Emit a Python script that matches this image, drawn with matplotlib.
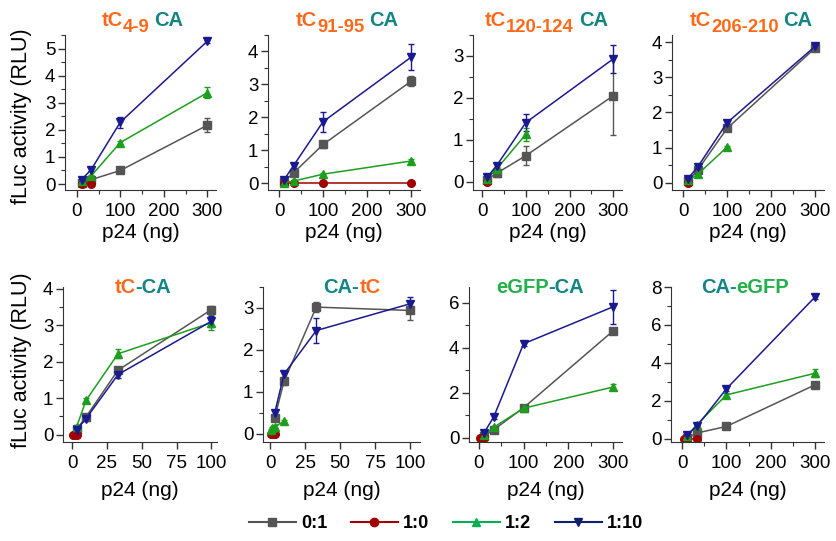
import matplotlib
matplotlib.use('Agg')
import matplotlib.pyplot as plt
from matplotlib.lines import Line2D
from matplotlib.ticker import MultipleLocator
from matplotlib.transforms import IdentityTransform
import numpy as np

nan = np.nan

###########
# DATOS
###########

# eje x (ng de p24)
x_top = [3.7, 11, 33, 100, 300]
x_low = [0.37, 1.1, 3.3, 10, 33, 100]

series = ['0:1', '1:0', '1:2', '1:10']

# tC4-9 CA
tc49_y = [[nan, 0.05, 0.16, 0.50, 2.17],
          [nan, 0.0, 0.0, nan, nan],
          [nan, 0.10, 0.30, 1.53, 3.37],
          [nan, 0.16, 0.53, 2.28, 5.27]]
tc49_e = [[0, 0.02, 0.03, 0.04, 0.25],
          [0, 0.01, 0.01, 0, 0],
          [0, 0.03, 0.05, 0.07, 0.20],
          [0, 0.03, 0.05, 0.20, 0.06]]

# tC91-95 CA
tc91_y = [[nan, 0.05, 0.32, 1.18, 3.10],
          [nan, 0.0, 0.0, 0.0, 0.0],
          [nan, 0.02, 0.07, 0.28, 0.68],
          [nan, 0.10, 0.54, 1.87, 3.83]]
tc91_e = [[0, 0.02, 0.05, 0.10, 0.15],
          [0, 0.01, 0.01, 0.01, 0.01],
          [0, 0.01, 0.02, 0.05, 0.07],
          [0, 0.03, 0.06, 0.30, 0.40]]

# tC120-124 CA
tc120_y = [[nan, 0.05, 0.20, 0.62, 2.05],
           [nan, 0.0, nan, nan, nan],
           [nan, 0.07, 0.30, 1.13, nan],
           [nan, 0.10, 0.38, 1.41, 2.93]]
tc120_e = [[0, 0.02, 0.08, 0.22, 0.93],
           [0, 0.01, 0, 0, 0],
           [0, 0.03, 0.05, 0.15, 0],
           [0, 0.04, 0.05, 0.20, 0.33]]

# tC206-210 CA
tc206_y = [[nan, 0.05, 0.36, 1.55, 3.83],
           [nan, 0.0, nan, nan, nan],
           [nan, 0.07, 0.24, 1.02, nan],
           [nan, 0.12, 0.45, 1.71, 3.88]]
tc206_e = [[0, 0.02, 0.05, 0.06, 0.06],
           [0, 0.01, 0, 0, 0],
           [0, 0.03, 0.06, 0.04, 0],
           [0, 0.04, 0.06, 0.08, 0.08]]

# tC-CA
tcca_y = [[nan, nan, 0.15, 0.49, 1.77, 3.43],
          [0.0, 0.0, 0.0, nan, nan, nan],
          [nan, nan, 0.22, 0.94, 2.22, 3.07],
          [nan, nan, 0.13, 0.44, 1.65, 3.11]]
tcca_e = [[0, 0, 0.03, 0.04, 0.08, 0.10],
          [0.01, 0.01, 0.01, 0, 0, 0],
          [0, 0, 0.04, 0.06, 0.12, 0.20],
          [0, 0, 0.04, 0.06, 0.10, 0.15]]

# CA-tC
catc_y = [[nan, nan, 0.37, 1.25, 3.02, 2.94],
          [0.0, 0.0, 0.0, nan, nan, nan],
          [0.08, 0.13, 0.17, 0.29, nan, nan],
          [nan, nan, 0.49, 1.42, 2.46, 3.10]]
catc_e = [[0, 0, 0.05, 0.08, 0.12, 0.22],
          [0.01, 0.01, 0.01, 0, 0, 0],
          [0.02, 0.02, 0.03, 0.04, 0, 0],
          [0, 0, 0.08, 0.06, 0.30, 0.15]]

# eGFP-CA
gfpca_y = [[nan, 0.10, 0.36, 1.34, 4.75],
           [0.0, 0.0, nan, nan, nan],
           [nan, 0.13, 0.47, 1.32, 2.26],
           [nan, 0.21, 0.92, 4.18, 5.82]]
gfpca_e = [[0, 0.03, 0.05, 0.06, 0.08],
           [0.02, 0.02, 0, 0, 0],
           [0, 0.03, 0.08, 0.08, 0.12],
           [0, 0.05, 0.08, 0.12, 0.75]]

# CA-eGFP
cagfp_y = [[nan, 0.05, 0.31, 0.66, 2.85],
           [0.0, 0.0, 0.0, nan, nan],
           [nan, 0.14, 0.75, 2.32, 3.46],
           [nan, 0.23, 0.66, 2.64, 7.48]]
cagfp_e = [[0, 0.03, 0.05, 0.06, 0.10],
           [0.02, 0.02, 0.02, 0, 0],
           [0, 0.04, 0.08, 0.10, 0.20],
           [0, 0.05, 0.08, 0.10, 0.10]]

##################
# ESTILO
##################

plt.rcParams['font.family'] = ['Liberation Sans', 'DejaVu Sans']

naranja = '#ff6a1a'
verde_azul = '#128585'
verde_gfp = '#22b14c'

colores = ['#555555', '#a00000', '#1e9e1e', '#1a1a90']
marcadores = ['s', 'o', '^', 'v']

fig = plt.figure(figsize=(8.37, 5.41), dpi=100)
W, H = 837, 541


def px_axes(left, top, right, bottom):
    return fig.add_axes([left / W, 1 - bottom / H, (right - left) / W,
                         (bottom - top) / H])


def plot_panel(ax, x, ys, es, xlim, ylim, xmaj, xmin, ymaj, ymin):
    for y, e, c, m in zip(ys, es, colores, marcadores):
        ax.errorbar(x, y, yerr=e, color=c, marker=m, ms=5.5, lw=1.1,
                    elinewidth=1, capsize=2.5, capthick=1)
    ax.set_xlim(xlim)
    ax.set_ylim(ylim)
    ax.xaxis.set_major_locator(MultipleLocator(xmaj))
    ax.yaxis.set_major_locator(MultipleLocator(ymaj))
    if xmin:
        ax.xaxis.set_minor_locator(MultipleLocator(xmin))
    if ymin:
        ax.yaxis.set_minor_locator(MultipleLocator(ymin))
    for s in ['top', 'right']:
        ax.spines[s].set_visible(False)
    for s in ['left', 'bottom']:
        ax.spines[s].set_color('#333333')
    ax.tick_params(which='major', direction='out', length=5, width=1,
                   labelsize=13.5, pad=2, color='#333333')
    ax.tick_params(axis='x', which='major', pad=4)
    ax.tick_params(which='minor', direction='out', length=3, width=0.8,
                   color='#333333')


def put_title(cx, base, parts, size=14.5):
    r = fig.canvas.get_renderer()
    txts = []
    for s, c, sub in parts:
        t = fig.text(0, 0, s, color=c, fontsize=size * (0.92 if sub else 1),
                     fontweight='bold', transform=IdentityTransform(),
                     va='baseline', ha='left')
        txts.append(t)
    ws = [t.get_window_extent(r).width for t in txts]
    gaps = [5 if s.startswith(' ') else 0 for s, c, sub in parts]
    total = sum(ws) + sum(gaps)
    x = cx - total / 2
    for t, w, g, (s, c, sub) in zip(txts, ws, gaps, parts):
        x += g
        t.set_text(s.strip())
        t.set_position((x, H - base - (6 if sub else 0)))
        x += w


paneles = [
    (x_top, tc49_y, tc49_e, (65, 35, 216, 190), (-27, 320), (-0.22, 5.5),
     100, 50, 1, 0.5,
     [('tC', naranja, False), ('4-9', naranja, True), (' CA', verde_azul, False)]),
    (x_top, tc91_y, tc91_e, (268, 35, 420, 190), (-25, 320), (-0.2, 4.5),
     100, 50, 1, 0.5,
     [('tC', naranja, False), ('91-95', naranja, True), (' CA', verde_azul, False)]),
    (x_top, tc120_y, tc120_e, (473, 35, 622, 190), (-21, 320), (-0.2, 3.5),
     100, 50, 1, 0.5,
     [('tC', naranja, False), ('120-124', naranja, True), (' CA', verde_azul, False)]),
    (x_top, tc206_y, tc206_e, (672, 35, 824, 190), (-25, 320), (-0.2, 4.2),
     100, 50, 1, 0.5,
     [('tC', naranja, False), ('206-210', naranja, True), (' CA', verde_azul, False)]),
    (x_low, tcca_y, tcca_e, (63, 287, 217, 442), (-6.5, 104), (-0.2, 4.05),
     25, None, 1, 0.5,
     [('tC', naranja, False), ('-CA', verde_azul, False)]),
    (x_low, catc_y, catc_e, (263, 287, 420, 442), (-5, 107), (-0.2, 3.5),
     25, None, 1, 0.5,
     [('CA-', verde_azul, False), ('tC', naranja, False)]),
    (x_top, gfpca_y, gfpca_e, (469, 287, 622, 442), (-22, 320), (-0.18, 6.7),
     100, 50, 2, 1,
     [('eGFP', verde_gfp, False), ('-CA', verde_azul, False)]),
    (x_top, cagfp_y, cagfp_e, (671, 287, 824, 442), (-25, 320), (-0.16, 8),
     100, 50, 2, 1,
     [('CA-', verde_azul, False), ('eGFP', verde_gfp, False)]),
]

titulo_x = [145, 350, 549, 754, 143, 352, 540, 745]

for i, (x, ys, es, caja, xl, yl, xma, xmi, yma, ymi, partes) in enumerate(paneles):
    ax = px_axes(*caja)
    plot_panel(ax, x, ys, es, xl, yl, xma, xmi, yma, ymi)
    cx = (caja[0] + caja[2]) / 2 / W
    if i < 4:
        put_title(titulo_x[i], 26, partes)
        fig.text(cx, 1 - 232 / H, 'p24 (ng)', fontsize=15,
                 ha='center', va='center')
    else:
        put_title(titulo_x[i], 293, partes)
        fig.text(cx, 1 - 491 / H, 'p24 (ng)', fontsize=15,
                 ha='center', va='center')

fig.text(22 / W, 1 - 116 / H, 'fLuc activity (RLU)', fontsize=15.5,
         rotation=90, ha='center', va='center')
fig.text(22 / W, 1 - 360 / H, 'fLuc activity (RLU)', fontsize=15.5,
         rotation=90, ha='center', va='center')

manijas = [Line2D([], [], color=c, marker=m, ms=6, lw=1.5)
           for c, m in zip(['#555555', '#a00000', '#00b050', '#0d1f6e'],
                           marcadores)]
fig.legend(manijas, series, loc='center', bbox_to_anchor=(446 / W, 1 - 524 / H),
           ncol=4, frameon=False, handlelength=2.6, columnspacing=1.3,
           handletextpad=0.3, prop={'weight': 'bold', 'size': 13})

fig.savefig('out.png', dpi=100)
